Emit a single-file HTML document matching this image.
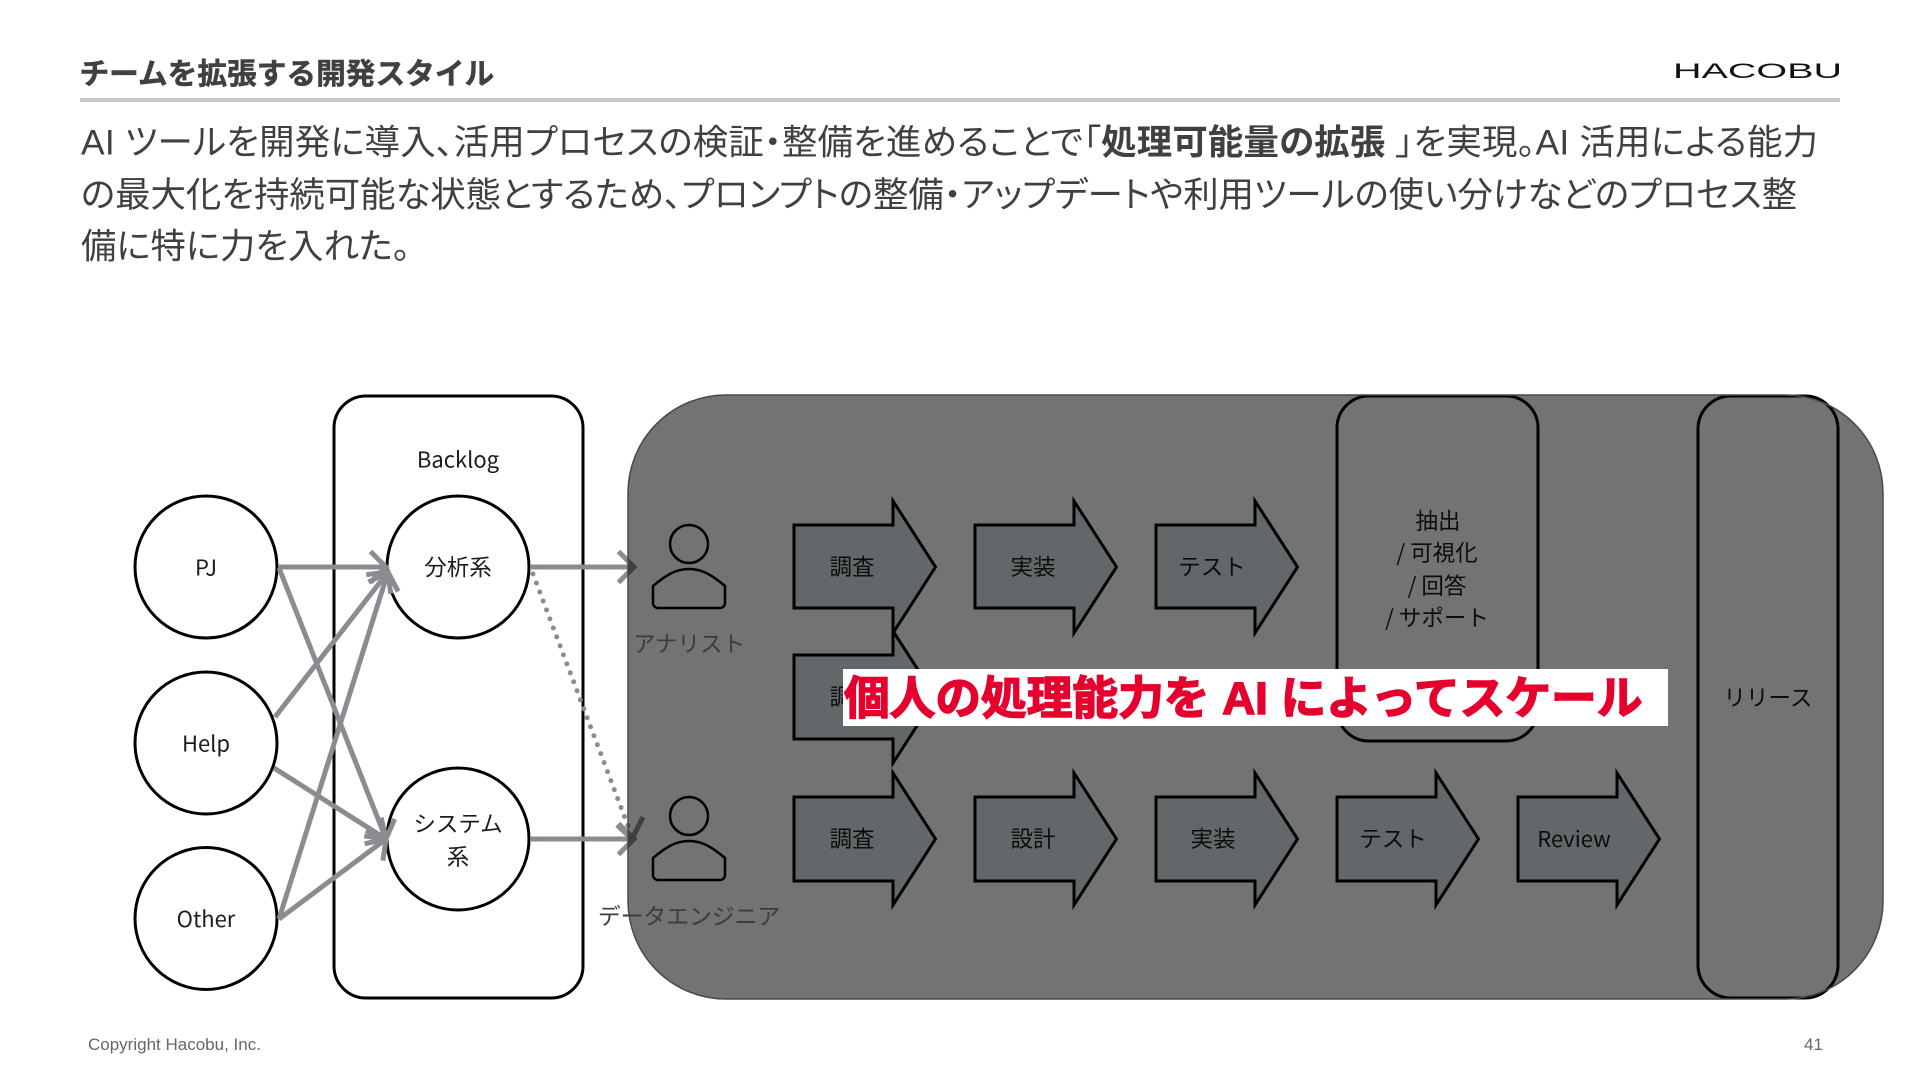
<!DOCTYPE html>
<html lang="ja"><head><meta charset="utf-8"><style>
html,body{margin:0;padding:0;background:#fff;width:1920px;height:1080px;overflow:hidden}
svg{display:block;position:absolute;left:0;top:0}
text{font-family:"Liberation Sans","Noto Sans CJK JP",sans-serif}
.d text,text.d{font-family:"Noto Sans CJK JP",sans-serif;fill:#1c1c1c;font-size:22.5px;text-anchor:middle;dominant-baseline:central}
.d text.l{font-size:22px}
.b{font-family:"Liberation Sans","Noto Sans CJK JP",sans-serif;fill:#404040;font-size:35.400px;font-feature-settings:"palt"}
</style></head><body>
<svg width="1920" height="1080" viewBox="0 0 1920 1080" xmlns="http://www.w3.org/2000/svg">
<defs>
<marker id="h" viewBox="-20 -20 24 40" refX="0" refY="0" markerWidth="24" markerHeight="40" markerUnits="userSpaceOnUse" orient="auto"><path d="M-15.500 -15.500L0 0L-15.500 15.500" fill="none" stroke="#8a8c91" stroke-width="5"/></marker>
</defs>
<text x="79.500" y="84" style="font-size:29.700px;font-weight:700;fill:#404040;stroke:#404040;stroke-width:.5px;font-family:'Liberation Sans','Noto Sans CJK JP',sans-serif">チームを拡張する開発スタイル</text>
<rect x="80" y="98" width="1760" height="4" fill="#c8c8c8"/>
<text x="1673" y="78" textLength="169" lengthAdjust="spacingAndGlyphs" style="font-size:21px;fill:#111">HACOBU</text>
<text class="b" x="81" y="154.500" textLength="1737">AI ツールを開発に導入、活用プロセスの検証・整備を進めることで「<tspan font-weight="700">処理可能量の拡張 </tspan>」を実現。AI 活用による能力</text>
<text class="b" x="81" y="207">の最大化を持続可能な状態とするため、プロンプトの整備・アップデートや利用ツールの使い分けなどのプロセス整</text>
<text class="b" x="81" y="258.500">備に特に力を入れた。</text>

<g fill="#fff" stroke="#000" stroke-width="3">
<rect x="334" y="396" width="249" height="602" rx="32"/>
<circle cx="206" cy="567" r="71"/><circle cx="206" cy="743" r="71"/><circle cx="206" cy="918.500" r="71"/>
<circle cx="458" cy="567" r="71"/><circle cx="458" cy="839" r="71"/>
</g>
<g stroke="#8a8c91" stroke-width="5" fill="none" marker-end="url(#h)">
<line x1="278" y1="567" x2="386" y2="567"/>
<line x1="275" y1="717" x2="388" y2="572"/>
<line x1="279" y1="919" x2="388" y2="572"/>
<line x1="279" y1="568" x2="386" y2="839"/>
<line x1="274" y1="768" x2="386" y2="839"/>
<line x1="279" y1="919" x2="386" y2="839"/>
<line x1="531" y1="567" x2="634" y2="567"/>
<line x1="531" y1="839" x2="634" y2="839"/>
</g>
<line x1="533" y1="574" x2="628" y2="826" stroke="#8a8c91" stroke-width="5" stroke-linecap="round" stroke-dasharray="0 9.600"/>
<path d="M617 825L632 839L643 817" fill="none" stroke="#8a8c91" stroke-width="5"/>

<g fill="#d9e6e8" stroke="#000" stroke-width="3" stroke-linejoin="miter">
<path d="M794 525H893V501L935.500 567L893 633V608H794Z"/>
<path d="M975 525H1074V501L1116.500 567L1074 633V608H975Z"/>
<path d="M1156 525H1255V501L1297.500 567L1255 633V608H1156Z"/>
<path d="M794 655H893V631L935.500 697L893 763V739H794Z"/>
<path d="M794 797H893V773L935.500 839L893 905V881H794Z"/>
<path d="M975 797H1074V773L1116.500 839L1074 905V881H975Z"/>
<path d="M1156 797H1255V773L1297.500 839L1255 905V881H1156Z"/>
<path d="M1337 797H1436V773L1478.500 839L1436 905V881H1337Z"/>
<path d="M1518 797H1617V773L1659.500 839L1617 905V881H1518Z"/>
</g>
<g fill="none" stroke="#000" stroke-width="3">
<rect x="1337" y="396" width="201" height="345" rx="32"/>
<rect x="1698" y="396" width="140" height="602" rx="33"/>
</g>
<g fill="none" stroke="#000" stroke-width="2.500">
<circle cx="689" cy="544" r="19"/>
<path d="M653 586C665 576 675 569 689 569C703 569 713 576 725 586V603a5 5 0 0 1-5 5H658a5 5 0 0 1-5-5Z"/>
<circle cx="689" cy="816" r="19"/>
<path d="M653 858C665 848 675 841 689 841C703 841 713 848 725 858V875a5 5 0 0 1-5 5H658a5 5 0 0 1-5-5Z"/>
</g>
<g class="d">
<text class="l" x="458" y="458.500">Backlog</text>
<text class="l" x="206" y="566.500">PJ</text><text class="l" x="206" y="742.500">Help</text><text class="l" x="206" y="918">Other</text>
<text x="458" y="566.500">分析系</text>
<text x="458" y="823">システム</text><text x="458" y="856">系</text>
<text x="852" y="566">調査</text><text x="1033" y="566">実装</text><text x="1212" y="566">テスト</text>
<text x="852" y="696">調査</text>
<text x="852" y="838">調査</text><text x="1033" y="838">設計</text><text x="1213" y="838">実装</text><text x="1393" y="838">テスト</text><text class="l" x="1574" y="838">Review</text>
<text x="1438" y="520">抽出</text><text x="1437" y="552">/ 可視化</text><text x="1437" y="585">/ 回答</text><text x="1437" y="617">/ サポート</text>
<text x="1768" y="697">リリース</text>
</g>
<rect x="628" y="395" width="1255" height="604" rx="98" ry="98" fill="#000" fill-opacity=".55" stroke="#4a4a4a" stroke-width="1.500"/>
<text class="d" x="689" y="643" style="fill:#3c3c3c">アナリスト</text>
<text class="d" x="689" y="915" style="fill:#3c3c3c;font-size:22.800px">データエンジニア</text>
<rect x="843" y="669" width="825" height="57" fill="#fff"/>
<text x="844" y="714" style="font-size:45.700px;font-weight:700;fill:#e6002d;stroke:#e6002d;stroke-width:1.500px">個人の処理能力を AI によってスケール</text>
<text x="88" y="1050" style="font-size:17px;fill:#666">Copyright Hacobu, Inc.</text>
<text x="1804" y="1050" style="font-size:17px;fill:#666">41</text>
</svg>
</body></html>
